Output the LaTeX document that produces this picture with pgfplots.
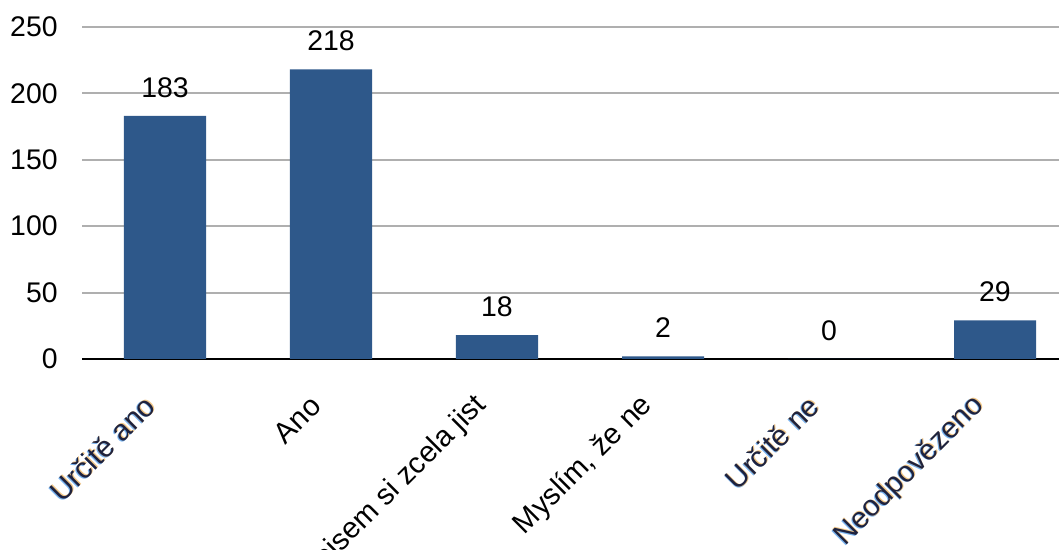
\documentclass[border=0pt]{standalone}
\usepackage{pgfplots}
\pgfplotsset{compat=1.18}
\usepackage{fontspec}
\setmainfont{Liberation Sans}
\definecolor{barblue}{RGB}{46,88,138}
\definecolor{gridgray}{RGB}{175,175,175}
\definecolor{fringeblue}{RGB}{120,178,238}
\definecolor{fringeorange}{RGB}{240,198,135}
\definecolor{labelnavy}{RGB}{30,34,62}
% labels rendered with a coloured fringe
\newcommand\fringe[1]{%
  \rlap{\hspace{-0.45pt}\textcolor{fringeblue}{#1}}%
  \rlap{\hspace{0.45pt}\textcolor{fringeorange}{#1}}%
  \textcolor{labelnavy}{#1}}
\begin{document}
\begin{tikzpicture}[x=1pt,y=1pt]
\useasboundingbox (-41,-95.5) rectangle (488.5,179.5);
\clip (-41,-95.5) rectangle (488.5,179.5);
\begin{axis}[
  at={(0,0)}, anchor=south west, scale only axis,
  width=498pt, height=166pt,
  xmin=-0.5, xmax=5.5, ymin=0, ymax=250,
  ytick={0,50,...,250},
  xtick={0,...,5},
  xticklabels={\fringe{Určitě ano}, Ano, Nejsem si zcela jist, {Myslím, že ne}, \fringe{Určitě ne}, \fringe{Neodpovězeno}},
  /pgf/number format/assume math mode=true,
  axis x line*=bottom, axis y line*=left,
  x axis line style={black, line width=1pt, -},
  y axis line style={draw=none},
  major tick length=0pt,
  ymajorgrids, grid style={gridgray, line width=1pt},
  yticklabel style={inner sep=0pt, anchor=east, xshift=-12pt, font=\fontsize{14.2}{16}\selectfont},
  xticklabel style={inner sep=0pt, xshift=-7.5pt, yshift=-21pt, anchor=east, rotate=45, font=\fontsize{14.7}{16}\selectfont},
  ybar, bar width=41pt,
  nodes near coords,
  every node near coord/.append style={inner sep=0pt, yshift=9pt, black, font=\fontsize{14.2}{16}\selectfont},
]
\addplot[fill=barblue, draw=none] coordinates {(0,183) (1,218) (2,18) (3,2) (4,0) (5,29)};
\end{axis}
\end{tikzpicture}
\end{document}
